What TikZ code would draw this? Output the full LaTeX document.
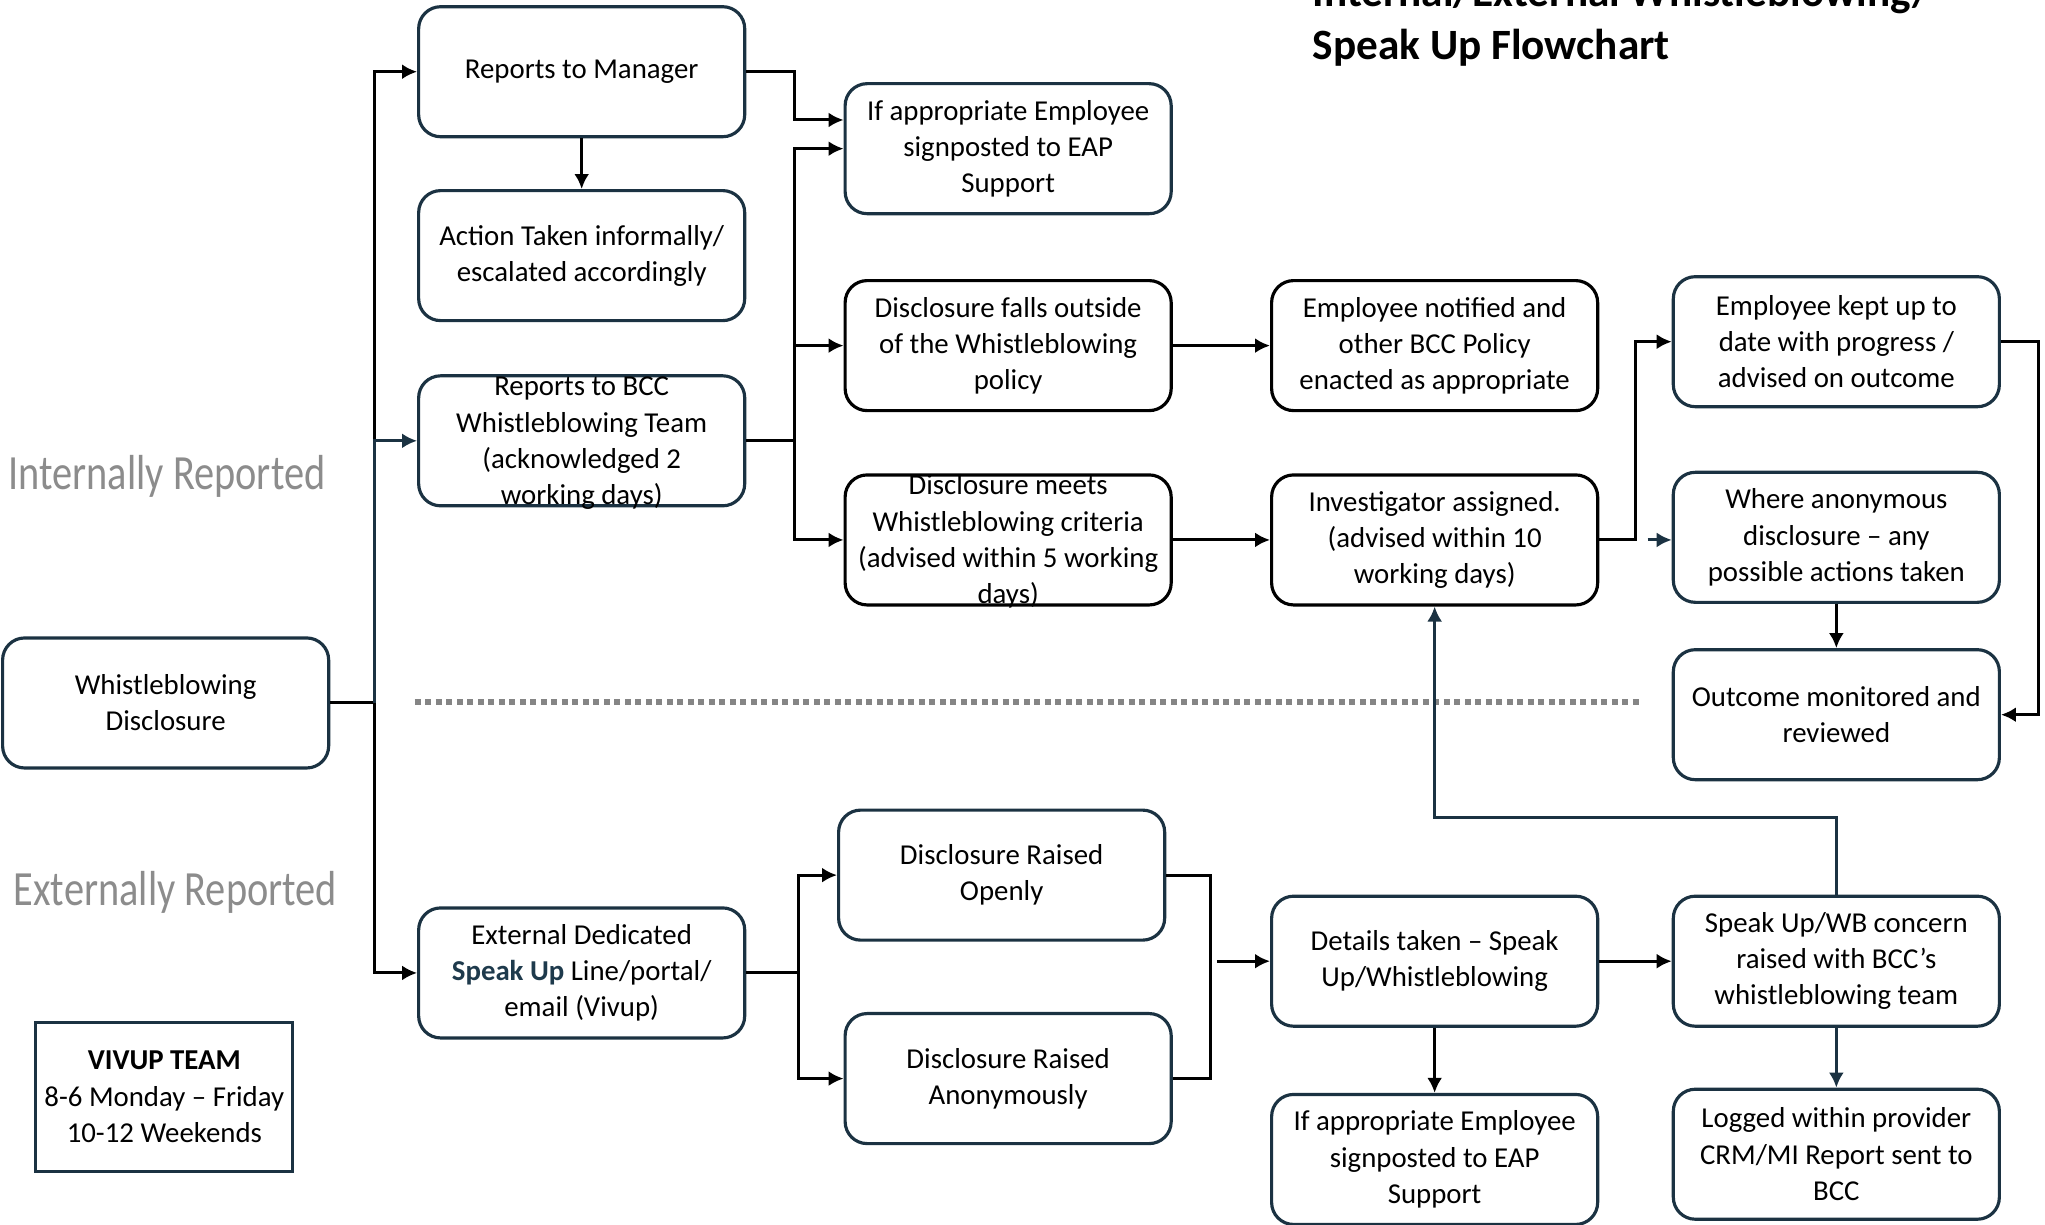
\documentclass[tikz,border=0pt]{standalone}
\usepackage{fontspec}
\setmainfont{Carlito}
\newfontfamily\narrowfont[FakeStretch=0.82]{Carlito}
\usetikzlibrary{arrows.meta, calc}
\definecolor{navy}{HTML}{1B3242}
\definecolor{speakup}{HTML}{1E3A4C}
\definecolor{lblgray}{HTML}{8C8C8C}
\newcommand{\spill}[1]{\smash{\raisebox{-2.6pt}{\begin{tabular}{@{}c@{}}#1\end{tabular}}}}
\tikzset{
  box/.style={draw=navy, line width=0.9pt, rounded corners=2.2mm, minimum width=32.6mm,
    minimum height=13mm, align=center, inner sep=0pt, font=\fontsize{8.2}{10.3}\selectfont},
  boxk/.style={box, draw=black},
  link/.style={line width=0.85pt, -{Latex[length=1.5mm,width=1.5mm]}},
  linkn/.style={link, draw=navy},
  side/.style={anchor=west, inner sep=0pt, text=lblgray, font=\narrowfont\fontsize{14}{16}\selectfont}
}
\begin{document}
\begin{tikzpicture}[x=0.1304mm, y=-0.1304mm]
\useasboundingbox (0,0) rectangle (1568,939);
\node (title) at (1006,51)[anchor=south west, inner sep=0pt, align=left, font=\fontsize{12.3}{15}\selectfont\bfseries]{Internal/External Whistleblowing/\\Speak Up Flowchart};
\node (intl) at (6,365)[side]{Internally Reported};
\node (extl) at (10,684)[side]{Externally Reported};

\node (wbd) at (127,539)[box]{Whistleblowing\\Disclosure};
\node (mgr) at (446,55)[box]{Reports to Manager};
\node (act) at (446,196)[box]{Action Taken informally/\\escalated accordingly};
\node (bcc) at (446,338)[box]{\spill{Reports to BCC\\Whistleblowing Team\\(acknowledged 2\\working days)}};
\node (eap1) at (773,114)[box]{If appropriate Employee\\signposted to EAP\\Support};
\node (outside) at (773,265)[boxk]{Disclosure falls outside\\of the Whistleblowing\\policy};
\node (meets) at (773,414)[boxk]{\spill{Disclosure meets\\Whistleblowing criteria\\(advised within 5 working\\days)}};
\node (notified) at (1100,265)[boxk]{Employee notified and\\other BCC Policy\\enacted as appropriate};
\node (invest) at (1100,414)[boxk]{Investigator assigned.\\(advised within 10\\working days)};
\node (kept) at (1408,262)[box]{Employee kept up to\\date with progress /\\advised on outcome};
\node (anon) at (1408,412)[box]{Where anonymous\\disclosure -- any\\possible actions taken};
\node (outcome) at (1408,548)[box]{Outcome monitored and\\reviewed};

\node (ext) at (446,746)[box]{External Dedicated\\{\bfseries\color{speakup}Speak Up} Line/portal/\\email (Vivup)};
\node (openly) at (768,671)[box]{Disclosure Raised\\Openly};
\node (anonly) at (773,827)[box]{Disclosure Raised\\Anonymously};
\node (details) at (1100,737)[box]{Details taken -- Speak\\Up/Whistleblowing};
\node (concern) at (1408,737)[box]{Speak Up/WB concern\\raised with BCC's\\whistleblowing team};
\node (eap2) at (1100,889)[box]{If appropriate Employee\\signposted to EAP\\Support};
\node (logged) at (1408,885)[box]{Logged within provider\\CRM/MI Report sent to\\BCC};
\node (vivup) at (126,841)[draw=navy, line width=0.9pt, inner sep=0pt, minimum width=25.7mm, minimum height=14.9mm, align=center, font=\fontsize{8.2}{10.3}\selectfont]{\textbf{VIVUP TEAM}\\8-6 Monday -- Friday\\10-12 Weekends};

\draw[lblgray!95!black, line width=0.6mm, dash pattern=on 0.6mm off 0.45mm] (318,538) -- (1258,538);

\draw[link] (wbd.east) -- (287,539) |- (mgr.west);
\draw[linkn] (287,539) |- (bcc.west);
\draw[link] (287,539) |- (ext.west);
\draw[link] (mgr.south) -- (act.north);
\draw[link] (mgr.east) -- (609,55) |- ($(eap1.west)+(0,-22)$);
\draw[link] (bcc.east) -- (609,338) |- (eap1.west);
\draw[link] (609,338) |- (outside.west);
\draw[link] (609,338) |- (meets.west);
\draw[link] (outside.east) -- (notified.west);
\draw[link] (meets.east) -- (invest.west);
\draw[link] (invest.east) -- (1254,414) |- (kept.west);
\draw[linkn] ($(invest.east)+(37,0)$) -- (anon.west |- invest.east);
\draw[link] (kept.east) -- (1563,262) |- (outcome.east);
\draw[link] (anon.south) -- (outcome.north);
\draw[linkn] (concern.north) -- (1408,627) -| (invest.south);

\draw[link] (ext.east) -- (612,746) |- (openly.west);
\draw[link] (612,746) |- (anonly.west);
\draw[line width=0.85pt] (openly.east) -- (928,671) |- (anonly.east);
\draw[link] (933,737) -- (details.west);
\draw[link] (details.east) -- (concern.west);
\draw[link] (details.south) -- (eap2.north);
\draw[linkn] (concern.south) -- (logged.north);
\end{tikzpicture}
\end{document}
